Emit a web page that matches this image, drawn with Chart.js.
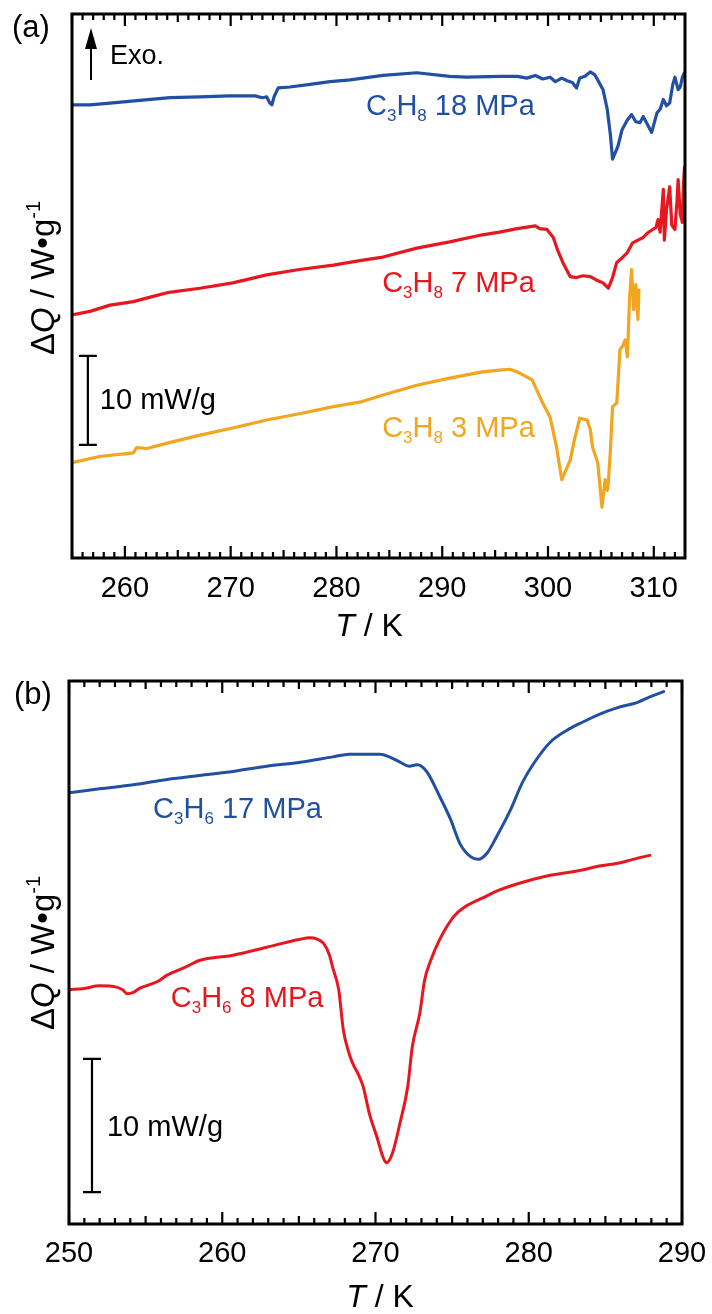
<!DOCTYPE html>
<html><head><meta charset="utf-8">
<script src="https://cdn.jsdelivr.net/npm/chart.js@4.4.0/dist/chart.umd.min.js"></script>
<style>
html,body{margin:0;padding:0;background:#fff;}
#wrap{position:relative;width:712px;height:1314px;overflow:hidden;}
canvas{position:absolute;left:0;}
</style></head><body>
<div id="wrap">
<canvas id="ca" width="712" height="655" style="top:0"></canvas>
<canvas id="cb" width="712" height="659" style="top:655px"></canvas>
</div>
<script>
// ---------- Panel (a): C3H8, T in K, ΔQ in mW/g (arbitrary offset) ----------
const A_T_BLUE = [255.0,256.7,258.6,261.4,264.3,267.1,269.9,272.3,273.0,273.4,273.7,273.9,274.1,274.5,275.6,277.5,279.4,281.3,284.4,287.6,290.7,292.3,295.5,297.1,298.0,298.8,299.5,300.2,300.7,301.3,301.8,302.3,302.7,303.0,303.5,304.0,304.4,304.7,305.2,305.6,305.9,306.1,306.6,307.0,307.5,307.9,308.3,308.7,309.0,309.4,309.8,310.3,310.6,310.9,311.2,311.5,311.8,312.0,312.3,312.5,312.7,312.9];
const A_Q_BLUE = [50.9,50.9,51.1,51.4,51.7,51.8,51.9,51.9,51.7,51.8,51.1,50.9,51.8,52.8,52.9,53.2,53.5,53.7,54.2,54.5,54.1,54.0,54.1,54.1,53.9,54.2,53.8,54.0,53.5,53.9,53.6,53.4,52.8,53.9,54.1,54.6,54.3,53.7,52.6,50.4,47.5,44.8,46.2,48.1,49.2,49.8,49.0,48.9,49.6,48.7,47.8,50.0,50.4,51.5,50.8,51.1,53.2,54.0,52.6,52.9,54.0,54.5];

const A_T_RED = [255.0,256.7,258.6,260.8,262.4,264.0,267.1,270.2,273.4,276.5,279.7,282.2,284.4,287.6,290.7,293.8,295.4,297.1,298.8,299.2,299.9,300.5,300.9,301.4,302.1,302.7,303.3,304.0,304.6,305.2,305.7,306.1,306.5,307.0,307.5,308.0,308.5,309.0,309.4,309.9,310.2,310.4,310.6,310.9,311.0,311.2,311.5,311.7,312.0,312.2,312.3,312.5,312.7,312.8,312.9];
const A_Q_RED = [27.3,27.7,28.4,28.8,29.3,29.8,30.3,30.9,31.8,32.4,32.9,33.4,33.8,34.8,35.5,36.3,36.6,37.0,37.3,37.0,36.9,36.0,34.6,33.2,31.6,31.5,31.7,31.6,31.2,30.9,30.3,31.5,33.2,33.7,34.3,35.4,35.7,36.0,36.5,36.9,37.1,38.0,36.6,41.4,35.7,39.1,41.7,37.4,36.9,40.2,42.5,38.6,37.7,41.9,43.9];

const A_T_ORANGE = [255.0,257.6,260.8,261.1,262.1,264.0,267.1,270.2,273.4,276.5,279.7,282.2,284.4,287.6,290.7,293.8,295.4,296.4,297.1,298.5,299.5,300.2,300.8,301.3,301.7,302.1,302.5,303.0,303.7,304.0,304.2,304.7,305.1,305.4,305.6,305.7,305.9,306.1,306.5,306.8,307.1,307.3,307.5,307.6,307.7,307.9,308.1,308.3,308.5,308.6];
const A_Q_ORANGE = [10.7,11.4,11.8,12.4,12.3,12.9,13.8,14.6,15.5,16.2,17.0,17.5,18.3,19.4,20.2,20.9,21.1,21.2,20.9,20.0,17.4,15.8,12.5,8.8,9.9,11.0,13.3,15.7,15.5,14.4,12.5,10.7,5.7,8.8,7.6,8.4,12.1,17.0,17.4,23.4,23.9,24.5,22.6,25.6,29.0,32.4,27.9,30.7,26.8,30.1];

const A_X_RANGE = [255, 312.95];
const A_Y_RANGE = [0, 61.1];
const A_TICK_LABELS = [260, 270, 280, 290, 300, 310];

// ---------- Panel (b): C3H6 ----------
const B_T_BLUE = [250.0,252.0,254.2,256.4,258.5,260.7,262.9,265.1,267.2,268.3,269.3,270.3,270.9,271.6,272.2,272.7,273.0,273.4,274.2,274.9,275.5,276.2,276.7,277.3,277.9,278.8,279.6,280.5,281.4,282.5,283.5,284.6,285.8,287.1,287.9,288.8];
const B_Q_BLUE = [32.4,32.7,33.0,33.4,33.7,34.0,34.4,34.7,35.1,35.3,35.3,35.3,35.1,34.7,34.4,34.5,34.4,33.9,32.1,30.4,28.6,27.6,27.4,27.9,29.1,31.1,33.2,34.9,36.2,37.1,37.7,38.3,38.8,39.2,39.6,40.0];

const B_T_RED = [250.0,251.0,252.0,253.1,253.5,253.8,254.2,254.6,255.3,255.9,256.4,257.6,258.5,260.7,262.9,265.1,265.7,266.2,266.6,267.0,267.2,267.6,267.9,268.2,268.5,268.9,269.2,269.6,270.1,270.5,270.7,271.1,271.6,272.1,272.4,272.9,273.2,273.6,274.2,275.1,275.8,277.0,278.1,280.3,281.4,283.5,284.6,285.8,286.8,287.9];
const B_Q_RED = [17.6,17.7,17.9,17.8,17.6,17.3,17.4,17.7,18.0,18.3,18.7,19.3,19.8,20.2,20.8,21.4,21.5,21.4,21.1,20.2,19.3,17.6,14.6,13.1,12.1,11.2,10.3,8.3,6.5,5.0,4.6,5.3,7.6,10.3,13.3,15.9,18.3,19.8,21.4,23.1,23.8,24.5,25.1,25.9,26.2,26.6,26.9,27.1,27.4,27.7];

const B_X_RANGE = [250, 290];
const B_Y_RANGE = [0, 40.8];
const B_TICK_LABELS = [250, 260, 270, 280, 290];

// ---------- styles ----------
const BLUE = '#2150a3', RED = '#e6171f', ORANGE = '#f2a51f';
const FONT = '"Liberation Sans", Arial, Helvetica, sans-serif';
const fnt = (s, st) => (st ? st + ' ' : '') + s + 'px ' + FONT;
const pts = (xs, ys) => xs.map((x, i) => ({x, y: ys[i]}));

function drawRuns(ctx, x, y, runs, align, color) {
  let w = 0;
  runs.forEach(r => { ctx.font = r.f; r.w = ctx.measureText(r.t).width; w += r.w; });
  let cx = align === 'right' ? x - w : align === 'center' ? x - w / 2 : x;
  ctx.textBaseline = 'alphabetic'; ctx.textAlign = 'left'; ctx.fillStyle = color || '#000';
  runs.forEach(r => { ctx.font = r.f; ctx.fillText(r.t, cx, y + (r.dy || 0)); cx += r.w; });
}
function gasRuns(h, size, rest) {
  const s = Math.round(size * 0.6);
  return [{t: 'C', f: fnt(size)}, {t: '3', f: fnt(s), dy: 6}, {t: 'H', f: fnt(size)}, {t: h, f: fnt(s), dy: 6}, {t: rest, f: fnt(size)}];
}
function yTitle(ctx, cx, cy) {
  ctx.save(); ctx.translate(cx, cy); ctx.rotate(-Math.PI / 2);
  drawRuns(ctx, 0, 0, [
    {t: 'Δ', f: fnt(33)}, {t: 'Q', f: fnt(33, 'italic')}, {t: ' / W•g', f: fnt(33)}, {t: '-1', f: fnt(20), dy: -14}
  ], 'center');
  ctx.restore();
}
function xTitle(ctx, cx, by) {
  drawRuns(ctx, cx, by, [{t: 'T', f: fnt(32, 'italic')}, {t: ' / K', f: fnt(32)}], 'center');
}
function scaleBar(ctx, x, y, t, q0, q1, labelDx, labelDy) {
  const px = x.getPixelForValue(t), p0 = y.getPixelForValue(q0), p1 = y.getPixelForValue(q1);
  ctx.strokeStyle = '#000'; ctx.lineWidth = 2.2;
  ctx.beginPath();
  ctx.moveTo(px, p0); ctx.lineTo(px, p1);
  ctx.moveTo(px - 9, p0); ctx.lineTo(px + 9, p0);
  ctx.moveTo(px - 9, p1); ctx.lineTo(px + 9, p1);
  ctx.stroke();
  drawRuns(ctx, px + labelDx, (p0 + p1) / 2 + labelDy, [{t: '10 mW/g', f: fnt(29)}], 'left');
}
function makeDecor(extra) {
  return {
    id: 'decor',
    afterDraw(chart) {
      const {ctx, chartArea: ca, scales: {x, y}} = chart;
      ctx.save();
      ctx.strokeStyle = '#000'; ctx.lineWidth = 2.2;
      ctx.beginPath();
      for (let t = Math.ceil(x.min); t <= Math.floor(x.max); t++) {
        const px = x.getPixelForValue(t);
        const len = t % 10 === 0 ? 12 : (t % 5 === 0 ? 8 : 6);
        ctx.moveTo(px, ca.bottom); ctx.lineTo(px, ca.bottom - len);
        ctx.moveTo(px, ca.top); ctx.lineTo(px, ca.top + len);
      }
      ctx.stroke();
      ctx.lineWidth = 3;
      ctx.strokeRect(ca.left, ca.top, ca.right - ca.left, ca.bottom - ca.top);
      extra(ctx, x, y, ca);
      ctx.restore();
    }
  };
}
function lineDs(data, color, smooth, w) {
  return {data, borderColor: color, borderWidth: w, pointRadius: 0, showLine: true, fill: false,
          tension: smooth ? 0.4 : 0, cubicInterpolationMode: smooth ? 'monotone' : 'default',
          borderJoinStyle: 'round', borderCapStyle: 'round'};
}
function baseOptions(xr, yr, labels, xHeight, pad, tickPad) {
  return {
    responsive: false, animation: false, devicePixelRatio: 1,
    layout: {padding: pad},
    plugins: {legend: {display: false}, tooltip: {enabled: false}},
    scales: {
      x: {type: 'linear', min: xr[0], max: xr[1],
          afterFit: s => { s.height = xHeight; s.paddingLeft = 0; s.paddingRight = 0; },
          grid: {display: false, drawTicks: false}, border: {display: false},
          ticks: {stepSize: 1, autoSkip: false, maxRotation: 0, padding: tickPad, color: '#000',
                  font: {family: FONT, size: 29},
                  callback: v => labels.includes(v) ? String(v) : ''}},
      y: {type: 'linear', display: false, min: yr[0], max: yr[1]}
    }
  };
}

// ---------- chart (a) ----------
new Chart(document.getElementById('ca'), {
  type: 'scatter',
  data: {datasets: [
    lineDs(pts(A_T_BLUE, A_Q_BLUE), BLUE, false, 3.2),
    lineDs(pts(A_T_RED, A_Q_RED), RED, false, 3.2),
    lineDs(pts(A_T_ORANGE, A_Q_ORANGE), ORANGE, false, 3.2)
  ]},
  options: baseOptions(A_X_RANGE, A_Y_RANGE, A_TICK_LABELS, 97, {left: 72, right: 27, top: 14, bottom: 0}, 14),
  plugins: [makeDecor((ctx, x, y, ca) => {
    drawRuns(ctx, 12, 37, [{t: '(a)', f: fnt(31)}], 'left');
    // Exo arrow
    ctx.strokeStyle = '#000'; ctx.lineWidth = 2; ctx.fillStyle = '#000';
    ctx.beginPath(); ctx.moveTo(91, 80); ctx.lineTo(91, 44); ctx.stroke();
    ctx.beginPath(); ctx.moveTo(85, 49); ctx.lineTo(97, 49); ctx.lineTo(91, 28); ctx.closePath(); ctx.fill();
    drawRuns(ctx, 110, 64, [{t: 'Exo.', f: fnt(27)}], 'left');
    yTitle(ctx, 54, 278);
    xTitle(ctx, 369, 636);
    scaleBar(ctx, x, y, 256.5, 12.7, 22.7, 12, 9);
    drawRuns(ctx, x.getPixelForValue(298.75), y.getPixelForValue(49.8), gasRuns('8', 29, ' 18 MPa'), 'right', BLUE);
    drawRuns(ctx, x.getPixelForValue(298.75), y.getPixelForValue(29.9), gasRuns('8', 29, ' 7 MPa'), 'right', RED);
    drawRuns(ctx, x.getPixelForValue(298.75), y.getPixelForValue(13.6), gasRuns('8', 29, ' 3 MPa'), 'right', ORANGE);
  })]
});

// ---------- chart (b) ----------
new Chart(document.getElementById('cb'), {
  type: 'scatter',
  data: {datasets: [
    lineDs(pts(B_T_BLUE, B_Q_BLUE), BLUE, true, 3),
    lineDs(pts(B_T_RED, B_Q_RED), RED, true, 3)
  ]},
  options: baseOptions(B_X_RANGE, B_Y_RANGE, B_TICK_LABELS, 90, {left: 69, right: 30, top: 26, bottom: 0}, 13),
  plugins: [makeDecor((ctx, x, y, ca) => {
    drawRuns(ctx, 14, 49, [{t: '(b)', f: fnt(31)}], 'left');
    yTitle(ctx, 54, 298);
    xTitle(ctx, 380, 652);
    scaleBar(ctx, x, y, 251.5, 2.4, 12.4, 15, 10);
    drawRuns(ctx, x.getPixelForValue(266.5), y.getPixelForValue(30.5), gasRuns('6', 29, ' 17 MPa'), 'right', BLUE);
    drawRuns(ctx, x.getPixelForValue(266.6), y.getPixelForValue(16.3), gasRuns('6', 29, ' 8 MPa'), 'right', RED);
  })]
});
</script>
</body></html>
